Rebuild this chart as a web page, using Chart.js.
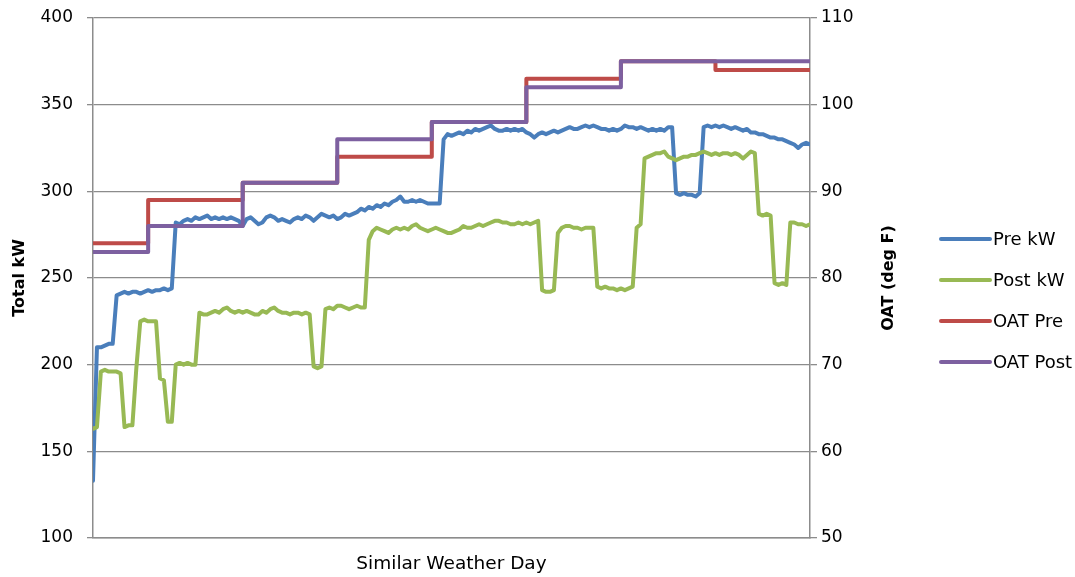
<!DOCTYPE html>
<html><head><meta charset="utf-8">
<script src="https://cdn.jsdelivr.net/npm/chart.js@4.4.0/dist/chart.umd.min.js"></script>
<style>html,body{margin:0;padding:0;background:#fff;overflow:hidden}canvas{display:block}</style>
</head><body>
<canvas id="c" width="1075" height="577"></canvas>
<script>
// ---- data (hourly samples across the similar-weather days) ----
const seriesNames = ['Pre kW', 'Post kW', 'OAT Pre', 'OAT Post'];
const preKW = [
  133,210,210,211,212,212,240,241,242,241,
  242,242,241,242,243,242,243,243,244,243,
  244,282,281,283,284,283,285,284,285,286,
  284,285,284,285,284,285,284,283,280,284,
  285,283,281,282,285,286,285,283,284,283,
  282,284,285,284,286,285,283,285,287,286,
  285,286,284,285,287,286,287,288,290,289,
  291,290,292,291,293,292,294,295,297,294,
  294,295,294,295,294,293,293,293,293,330,
  333,332,333,334,333,335,334,336,335,336,
  337,338,336,335,335,336,335,336,335,336,
  334,333,331,333,334,333,334,335,334,335,
  336,337,336,336,337,338,337,338,337,336,
  336,335,336,335,336,338,337,337,336,337,
  336,335,336,335,336,335,337,337,299,298,
  299,298,298,297,299,337,338,337,338,337,
  338,337,336,337,336,335,336,334,334,333,
  333,332,331,331,330,330,329,328,327,325,
  327,328,327
];
const postKW = [
  163,164,196,197,196,196,196,195,164,165,
  165,198,225,226,225,225,225,192,191,167,
  167,200,201,200,201,200,200,230,229,229,
  230,231,230,232,233,231,230,231,230,231,
  230,229,229,231,230,232,233,231,230,230,
  229,230,230,229,230,229,199,198,199,232,
  233,232,234,234,233,232,233,234,233,233,
  272,277,279,278,277,276,278,279,278,279,
  278,280,281,279,278,277,278,279,278,277,
  276,276,277,278,280,279,279,280,281,280,
  281,282,283,283,282,282,281,281,282,281,
  282,281,282,283,243,242,242,243,276,279,
  280,280,279,279,278,279,279,279,245,244,
  245,244,244,243,244,243,244,245,279,281,
  319,320,321,322,322,323,320,319,318,319,
  320,320,321,321,322,323,322,321,322,321,
  322,322,321,322,321,319,321,323,322,287,
  286,287,286,247,246,247,246,282,282,281,
  281,280,281
];
const oatHours = [0, 14, 38, 62, 86, 110, 134, 158, 182];
const oatPre   = [84, 89, 91, 94, 98, 103, 105, 104, 104];
const oatPost  = [83, 86, 91, 96, 98, 102, 105, 105, 105];
const kwTicks  = [100, 150, 200, 250, 300, 350, 400];
const oatTicks = [50, 60, 70, 80, 90, 100, 110];
const xTitle = 'Similar Weather Day';
const yTitle = 'Total kW';
const y2Title = 'OAT (deg F)';

// ---- styles ----
const colors = ['#4A7EBB', '#98B954', '#BE4B48', '#7D60A0'];
const gridColor = '#8c8c8c';
const FONT = '"DejaVu Sans", Verdana, sans-serif';

const hourly = arr => arr.map((v, i) => ({x: i, y: v}));
const stepPts = arr => arr.map((v, i) => ({x: oatHours[i], y: v}));

const common = {pointRadius: 0, borderWidth: 4, tension: 0, fill: false,
  borderJoinStyle: 'round', borderCapStyle: 'round'};

const extras = {
  id: 'extras',
  afterDraw(chart) {
    const ctx = chart.ctx;
    const ca = chart.chartArea;
    ctx.save();
    ctx.fillStyle = '#000';
    ctx.font = 'bold 16px ' + FONT;
    ctx.textAlign = 'center';
    ctx.textBaseline = 'middle';
    ctx.translate(889, (ca.top + ca.bottom) / 2);
    ctx.rotate(-Math.PI / 2);
    ctx.fillText(y2Title, 0, 0);
    ctx.restore();

    ctx.save();
    ctx.font = '18px ' + FONT;
    ctx.textAlign = 'left';
    ctx.textBaseline = 'middle';
    chart.data.datasets.forEach((ds, i) => {
      const y = 239 + i * 41;
      ctx.strokeStyle = ds.borderColor;
      ctx.lineWidth = 4;
      ctx.lineCap = 'round';
      ctx.beginPath();
      ctx.moveTo(941, y);
      ctx.lineTo(990, y);
      ctx.stroke();
      ctx.fillStyle = '#000';
      ctx.fillText(ds.label, 993, y + 1);
    });
    ctx.restore();
  }
};

function fixVertical(w) {
  return function (s) { s.width = w; s.paddingTop = 0; s.paddingBottom = 0; };
}

new Chart(document.getElementById('c'), {
  type: 'line',
  data: {
    datasets: [
      Object.assign({label: seriesNames[0], data: hourly(preKW), yAxisID: 'y', borderColor: colors[0], order: 4}, common),
      Object.assign({label: seriesNames[1], data: hourly(postKW), yAxisID: 'y', borderColor: colors[1], order: 3}, common),
      Object.assign({label: seriesNames[2], data: stepPts(oatPre), yAxisID: 'y2', borderColor: colors[2], order: 2, stepped: 'before'}, common),
      Object.assign({label: seriesNames[3], data: stepPts(oatPost), yAxisID: 'y2', borderColor: colors[3], order: 1, stepped: 'before'}, common)
    ]
  },
  options: {
    responsive: false,
    animation: false,
    devicePixelRatio: 1,
    layout: {padding: {top: 18, left: 0, right: 0, bottom: 0}},
    plugins: {legend: {display: false}, tooltip: {enabled: false}},
    scales: {
      x: {
        type: 'linear', min: 0, max: 182,
        ticks: {display: false},
        grid: {display: false},
        border: {display: true, color: gridColor, width: 1.5},
        title: {display: true, text: xTitle, color: '#000', font: {family: FONT, size: 18.5}, padding: {top: 0, bottom: 2}},
        afterFit(s) { s.height = 39; s.paddingLeft = 0; s.paddingRight = 0; }
      },
      y: {
        position: 'left',
        min: kwTicks[0], max: kwTicks[kwTicks.length - 1],
        ticks: {stepSize: kwTicks[1] - kwTicks[0], color: '#000', padding: 14, font: {family: FONT, size: 17}},
        grid: {color: gridColor, lineWidth: 1.3, drawTicks: true, tickLength: 6, tickColor: gridColor},
        border: {display: true, color: gridColor, width: 1.5},
        title: {display: true, text: yTitle, color: '#000', font: {family: FONT, size: 16, weight: 'bold'}, padding: {top: 10, bottom: 0}},
        afterFit: fixVertical(93)
      },
      y2: {
        position: 'right',
        min: oatTicks[0], max: oatTicks[oatTicks.length - 1],
        ticks: {stepSize: oatTicks[1] - oatTicks[0], color: '#000', padding: 4, font: {family: FONT, size: 17}},
        grid: {drawOnChartArea: false, drawTicks: true, tickLength: 7, color: gridColor, tickColor: gridColor, lineWidth: 1.3},
        border: {display: true, color: gridColor, width: 1.5},
        afterFit: fixVertical(265)
      }
    }
  },
  plugins: [extras]
});
</script>
</body></html>
